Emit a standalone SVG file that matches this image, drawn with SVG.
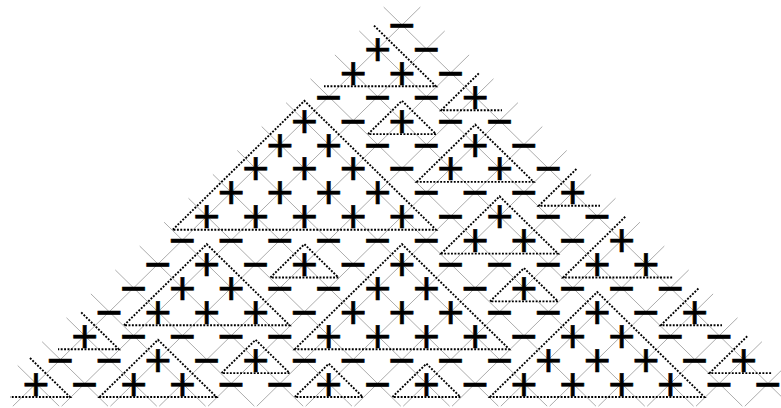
<svg xmlns="http://www.w3.org/2000/svg" xmlns:xlink="http://www.w3.org/1999/xlink" width="781" height="408" viewBox="0 0 781 408">
<style>
.grid{fill:none;stroke:#9a9a9a;stroke-width:0.034}
.tri{fill:none;stroke:#000;stroke-width:1.9;stroke-dasharray:1.9 1.5}
.s{font-family:"Liberation Sans",Arial,sans-serif;font-size:46px;fill:#000;stroke:#000;stroke-width:0.6;text-anchor:middle;dominant-baseline:central}
</style>
<defs>
<path id="gl" d="M-0.75 -0.75L15.95 15.95M-1.75 0.25L13.95 15.95M-2.75 1.25L11.95 15.95M-3.75 2.25L9.95 15.95M-4.75 3.25L7.95 15.95M-5.75 4.25L5.95 15.95M-6.75 5.25L3.95 15.95M-7.75 6.25L1.95 15.95M-8.75 7.25L-0.05 15.95M-9.75 8.25L-2.05 15.95M-10.75 9.25L-4.05 15.95M-11.75 10.25L-6.05 15.95M-12.75 11.25L-8.05 15.95M-13.75 12.25L-10.05 15.95M-14.75 13.25L-12.05 15.95M-15.75 14.25L-14.05 15.95"/>
</defs>
<rect width="781" height="408" fill="#fff"/>
<g id="grid" transform="translate(402 25) scale(24.4 23.9)">
<use xlink:href="#gl" class="grid"/>
<use xlink:href="#gl" class="grid" transform="scale(-1 1)"/>
</g>
<g id="connectors">
<path class="tri" d="M374 25.6L436 86.3L324 86.3"/>
<path class="tri" d="M478.8 73.4L441.2 110.2L502 110.2"/>
<path class="tri" d="M368 134.1L402 100.8L436 134.1Z"/>
<path class="tri" d="M172.8 229.7L304.4 100.8L436 229.7Z"/>
<path class="tri" d="M416.8 181.9L475.2 124.7L533.6 181.9Z"/>
<path class="tri" d="M576.4 169L538.8 205.8L600 205.8"/>
<path class="tri" d="M441.2 253.6L499.6 196.4L558 253.6Z"/>
<path class="tri" d="M124 325.3L206.8 244.2L289.6 325.3Z"/>
<path class="tri" d="M270.4 277.5L304.4 244.2L338.4 277.5Z"/>
<path class="tri" d="M294.8 349.2L402 244.2L509.2 349.2Z"/>
<path class="tri" d="M625.2 216.8L563.2 277.5L673 277.5"/>
<path class="tri" d="M490 301.4L524 268.1L558 301.4Z"/>
<path class="tri" d="M490 397L597.2 292L704.4 397Z"/>
<path class="tri" d="M698.4 288.5L660.8 325.3L722 325.3"/>
<path class="tri" d="M81.2 312.4L118.8 349.2L58 349.2"/>
<path class="tri" d="M99.6 397L158 339.8L216.4 397Z"/>
<path class="tri" d="M221.6 373.1L255.6 339.8L289.6 373.1Z"/>
<path class="tri" d="M747.2 336.3L709.6 373.1L772 373.1"/>
<path class="tri" d="M30 358L70 397L10 397"/>
<path class="tri" d="M294.8 397L328.8 363.7L362.8 397Z"/>
<path class="tri" d="M392.4 397L426.4 363.7L460.4 397Z"/>
</g>
<g id="signs">
<text class="s" y="25" x="402">−</text>
<text class="s" y="48.9" x="377.6 426.4">+−</text>
<text class="s" y="72.8" x="353.2 402 450.8">++−</text>
<text class="s" y="96.7" x="328.8 377.6 426.4 475.2">−−−+</text>
<text class="s" y="120.6" x="304.4 353.2 402 450.8 499.6">+−+−−</text>
<text class="s" y="144.5" x="280 328.8 377.6 426.4 475.2 524">++−−+−</text>
<text class="s" y="168.4" x="255.6 304.4 353.2 402 450.8 499.6 548.4">+++−++−</text>
<text class="s" y="192.3" x="231.2 280 328.8 377.6 426.4 475.2 524 572.8">++++−−−+</text>
<text class="s" y="216.2" x="206.8 255.6 304.4 353.2 402 450.8 499.6 548.4 597.2">+++++−+−−</text>
<text class="s" y="240.1" x="182.4 231.2 280 328.8 377.6 426.4 475.2 524 572.8 621.6">−−−−−−++−+</text>
<text class="s" y="264" x="158 206.8 255.6 304.4 353.2 402 450.8 499.6 548.4 597.2 646">−+−+−+−−−++</text>
<text class="s" y="287.9" x="133.6 182.4 231.2 280 328.8 377.6 426.4 475.2 524 572.8 621.6 670.4">−++−−++−+−−−</text>
<text class="s" y="311.8" x="109.2 158 206.8 255.6 304.4 353.2 402 450.8 499.6 548.4 597.2 646 694.8">−+++−+++−−+−+</text>
<text class="s" y="335.7" x="84.8 133.6 182.4 231.2 280 328.8 377.6 426.4 475.2 524 572.8 621.6 670.4 719.2">+−−−−++++−++−−</text>
<text class="s" y="359.6" x="60.4 109.2 158 206.8 255.6 304.4 353.2 402 450.8 499.6 548.4 597.2 646 694.8 743.6">−−+−+−−−−−+++−+</text>
<text class="s" y="383.5" x="36 84.8 133.6 182.4 231.2 280 328.8 377.6 426.4 475.2 524 572.8 621.6 670.4 719.2 768">+−++−−+−+−++++−−</text>
</g>
</svg>
